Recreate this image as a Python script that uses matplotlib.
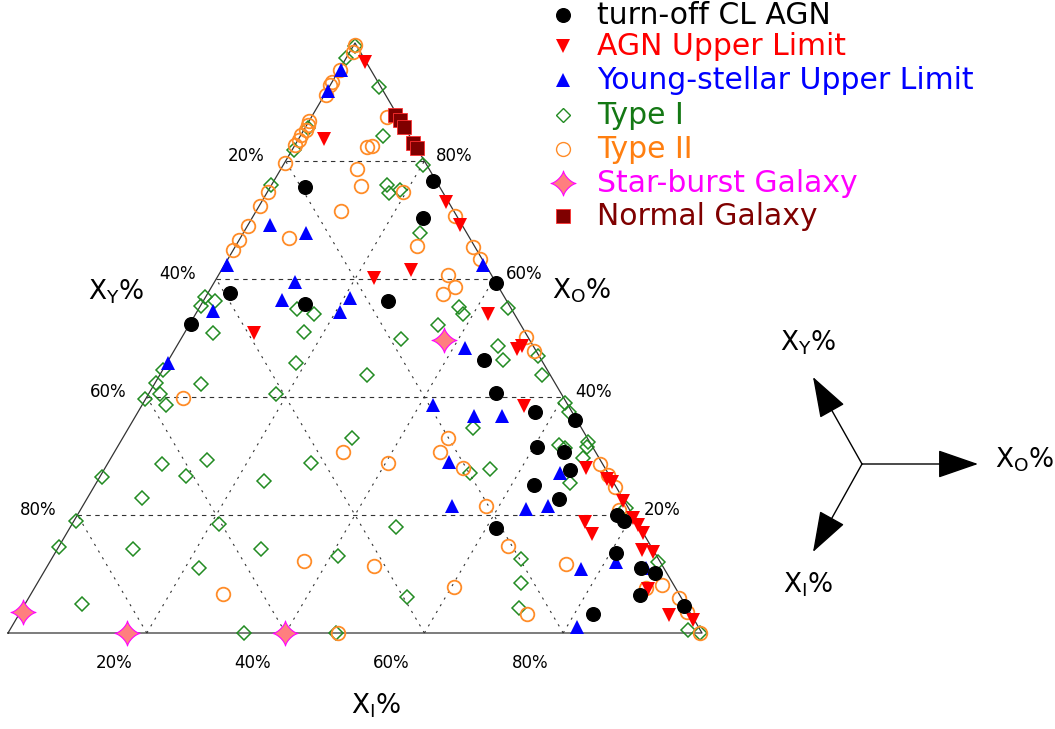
import numpy as np
import matplotlib
matplotlib.use('Agg')
import matplotlib.pyplot as plt
from matplotlib.path import Path

# ternary values in percent: X_O (top), X_I (bottom), X_Y = 100 - X_O - X_I
agn_xo = [75.6, 76.6, 70.3, 57.6, 52.4, 55.7, 56.2, 59.3, 46.3, 40.6, 37.4, 36.1, 31.6,
          30.7, 27.7, 25.1, 22.7, 17.8, 20.0, 19.0, 13.5, 11.0, 10.1, 6.4, 4.5, 3.3]
agn_xi = [5.0, 23.0, 24.6, 3.2, 0.1, 14.9, 26.6, 40.7, 45.4, 50.0, 57.2, 63.7, 60.4,
          64.8, 67.1, 63.3, 68.1, 61.4, 77.7, 79.2, 80.8, 85.7, 88.2, 87.8, 95.1, 82.7]

agnul_xo = [96.8, 83.7, 73.1, 69.2, 60.2, 61.6, 50.8, 54.1, 48.1, 48.6, 38.4, 27.9, 26.1,
            25.6, 22.3, 19.5, 18.3, 16.9, 18.8, 16.8, 14.1, 13.7, 7.4, 3.1, 2.2]
agnul_xi = [3.0, 3.7, 26.6, 30.6, 22.7, 27.2, 10.1, 42.1, 49.3, 49.8, 55.2, 69.4, 73.2,
            74.2, 77.5, 80.3, 81.7, 83.0, 73.8, 75.8, 84.3, 86.1, 88.5, 93.7, 97.6]

young_xo = [95.5, 91.9, 69.2, 67.8, 62.4, 54.5, 45.7, 59.5, 56.4, 56.8, 54.4, 48.3, 38.6,
            36.8, 36.7, 62.4, 28.9, 21.6, 27.2, 21.0, 21.5, 10.8, 12.1, 1.1, 11.0]
young_xi = [0.3, 0.2, 3.1, 9.0, 0.3, 2.3, 0.2, 11.6, 11.3, 20.9, 20.6, 41.7, 41.9,
            48.8, 52.8, 37.3, 49.1, 53.2, 66.0, 64.1, 67.0, 77.2, 81.5, 81.5, 86.5]

type1_xo = [99.5, 97.4, 81.9, 75.9, 85.6, 92.6, 84.2, 79.3, 75.9, 74.5, 75.1, 67.8, 56.9,
            56.3, 55.5, 50.8, 44.6, 42.3, 42.2, 40.5, 39.6, 38.6, 55.0, 54.1, 51.0, 45.7,
            43.8, 49.8, 52.2, 55.3, 54.1, 40.5, 33.0, 34.7, 55.1, 48.7, 46.2, 47.0, 43.8,
            38.9, 37.5, 28.6, 26.6, 29.3, 26.4, 22.9, 19.0, 14.5, 14.2, 18.5, 11.0, 5.0,
            0.0, 28.8, 25.8, 17.9, 14.2, 13.1, 6.1, 0.0, 27.2, 27.8, 31.9, 31.4, 32.4,
            31.6, 29.7, 25.4, 21.2, 12.5, 8.5, 4.3, 12.1, 0.5, 0.0]
type1_xi = [0.2, 0.0, 0.2, 0.0, 0.4, 7.1, 11.9, 20.1, 16.6, 17.6, 18.9, 25.5, 0.0,
            1.7, 0.1, 4.2, 0.1, 0.2, 6.7, 1.7, 0.0, 3.4, 14.2, 17.1, 17.1, 18.6,
            29.8, 31.7, 35.8, 37.4, 38.5, 18.4, 33.0, 49.7, 44.5, 46.2, 48.2, 52.8, 55.0,
            60.8, 62.1, 7.9, 12.3, 14.0, 0.4, 7.9, 0.3, 0.1, 10.9, 21.1, 22.0, 8.1,
            34.0, 29.3, 24.0, 47.0, 29.4, 41.0, 54.5, 47.3, 53.0, 55.6, 63.4, 64.6, 67.4,
            67.6, 68.0, 68.3, 78.4, 67.6, 69.6, 71.5, 87.6, 97.8, 99.7]

type2_xo = [99.6, 98.5, 95.4, 93.4, 92.9, 91.2, 86.8, 86.1, 85.3, 84.4, 83.6, 82.7, 79.6,
            74.8, 72.3, 68.9, 66.9, 87.5, 82.4, 82.6, 78.6, 75.8, 71.5, 74.7, 70.6, 66.6,
            64.9, 39.8, 65.6, 65.5, 60.7, 58.7, 57.4, 33.0, 63.4, 50.2, 47.8, 6.6, 30.6,
            28.8, 30.6, 27.9, 12.2, 11.4, 7.8, 0.0, 21.6, 14.7, 28.6, 26.8, 24.7, 20.8,
            11.7, 7.6, 8.1, 5.9, 3.6, 3.2, 0.0]
type2_xi = [0.2, 0.4, 0.1, 0.0, 0.0, 0.2, 0.0, 0.2, 0.3, 0.0, 0.2, 0.0, 0.1,
            0.1, 0.2, 0.2, 7.1, 10.8, 10.5, 11.2, 11.0, 13.0, 12.2, 19.6, 29.1, 0.0,
            0.0, 5.3, 26.1, 34.3, 33.1, 35.1, 34.0, 46.9, 36.3, 49.5, 51.9, 27.7, 33.0,
            40.3, 47.0, 51.6, 36.5, 47.1, 60.3, 47.6, 58.1, 64.7, 71.0, 73.0, 75.1, 77.7,
            74.5, 88.1, 90.2, 93.7, 96.0, 73.2, 99.7]

sb_xo = [49.7, 3.6, 0.0, 0.0]
sb_xi = [38.0, 0.3, 17.2, 39.9]

norm_xo = [87.8, 86.9, 85.8, 83.0, 82.2]
norm_xi = [11.9, 13.0, 14.1, 16.9, 17.8]

grid_levels = [20, 40, 60, 80]


def tern(xo, xi):
    xo = np.asarray(xo) / 100.
    xi = np.asarray(xi) / 100.
    return xi + xo / 2., xo


def px(x, y):
    # pixel position of the reference picture -> data coords
    return (x - 8) / 694., (633 - y) / 590.


# four point star marker (concave sides)
t = np.linspace(0, 2 * np.pi, 121)
star = np.column_stack([np.sign(np.cos(t)) * np.abs(np.cos(t)) ** 2.8,
                        np.sign(np.sin(t)) * np.abs(np.sin(t)) ** 2.8])
star_marker = Path(star, closed=True)

fig = plt.figure(figsize=(10.55, 7.29), dpi=100)
ax = fig.add_axes([0, 0, 1, 1])
ax.set_xlim(-8 / 694., 1047 / 694.)
ax.set_ylim(-96 / 590., 633 / 590.)
ax.axis('off')

# triangle
ax.plot([0, 1, 0.5, 0], [0, 0, 1, 0], color='#333333', lw=0.9, zorder=1)

# grid
for g in grid_levels:
    c = g / 100.
    ax.plot([c / 2, 1 - c / 2], [c, c], color='#333333', lw=0.8, ls=(0, (4, 4)), zorder=1)
    ax.plot([c, c + (1 - c) / 2], [0, 1 - c], color='#333333', lw=0.8, ls=(0, (2, 5)), zorder=1)
    ax.plot([1 - c, (1 - c) / 2], [0, 1 - c], color='#333333', lw=0.8, ls=(0, (2, 5)), zorder=1)

# tick labels
for g in grid_levels:
    c = g / 100.
    lx, ly = px(8 + 694 * c / 2 - 39, 633 - 590 * c - 5)
    ax.text(lx, ly, f'{100 - g}%', fontsize=12, ha='center', va='center')
    rx, ry = px(8 + 694 * (1 - c / 2) + 30, 633 - 590 * c - 5)
    ax.text(rx, ry, f'{g}%', fontsize=12, ha='center', va='center')
    bx, by = px(8 + 694 * c - 33, 663)
    ax.text(bx, by, f'{g}%', fontsize=12, ha='center', va='center')

ax.text(*px(116, 292), r'X$_{\rm Y}$%', fontsize=19, ha='center', va='center')
ax.text(*px(582, 291), r'X$_{\rm O}$%', fontsize=19, ha='center', va='center')
ax.text(*px(376, 706), r'X$_{\rm I}$%', fontsize=19, ha='center', va='center')

# data
x, y = tern(type1_xo, type1_xi)
ax.plot(x, y, 'D', ms=7, mfc='none', mec='#228B22', mew=1.1, ls='none', zorder=3)
x, y = tern(type2_xo, type2_xi)
ax.plot(x, y, 'o', ms=9.8, mfc='none', mec='#FF8C28', mew=1.3, ls='none', zorder=3)
x, y = tern(sb_xo, sb_xi)
ax.plot(x, y, marker=star_marker, ms=18, mfc='#FF7F7F', mec='#FF00FF', mew=0.8, ls='none', zorder=4)
x, y = tern(norm_xo, norm_xi)
ax.plot(x, y, 's', ms=10.5, mfc='#7F0000', mec='#FF3030', mew=0.6, ls='none', zorder=4)
x, y = tern(young_xo, young_xi)
ax.plot(x, y, '^', ms=9.5, color='#0000FF', mew=0, ls='none', zorder=5)
x, y = tern(agnul_xo, agnul_xi)
ax.plot(x, y, 'v', ms=9.5, color='#FF0000', mew=0, ls='none', zorder=5)
x, y = tern(agn_xo, agn_xi)
ax.plot(x, y, 'o', ms=9.8, color='black', ls='none', zorder=6)

# legend
legend_rows = [
    ('turn-off CL AGN', dict(marker='o', ms=9.8, mfc='black', mec='black'), 'black'),
    ('AGN Upper Limit', dict(marker='v', ms=10, mfc='#FF0000', mec='#FF0000', mew=0), '#FF0000'),
    ('Young-stellar Upper Limit', dict(marker='^', ms=10, mfc='#0000FF', mec='#0000FF', mew=0), '#0000FF'),
    ('Type I', dict(marker='D', ms=7, mfc='none', mec='#228B22', mew=1), '#147814'),
    ('Type II', dict(marker='o', ms=10, mfc='none', mec='#FF8C28', mew=1), '#FF7F10'),
    ('Star-burst Galaxy', dict(marker=star_marker, ms=18, mfc='#FF7F7F', mec='#FF00FF', mew=0.8), '#FF00FF'),
    ('Normal Galaxy', dict(marker='s', ms=10.5, mfc='#7F0000', mec='#FF3030', mew=0.6), '#7F0000'),
]
row_y = [15, 46, 80, 115, 149, 183, 216]
for (label, mk, col), yy in zip(legend_rows, row_y):
    ax.plot(*px(563, yy), ls='none', **mk)
    ax.text(*px(597, yy), label, color=col, fontsize=21.5, ha='left', va='center')

# direction arrows
cx, cy = px(862, 464)
arrow_tips = [(978, 464), (813, 377), (813, 552)]
for tx, ty in arrow_tips:
    ax.annotate('', xy=px(tx, ty), xytext=(cx, cy),
                arrowprops=dict(arrowstyle='-|>,head_length=1.3,head_width=0.45',
                                mutation_scale=20, color='black', lw=1.0,
                                shrinkA=0, shrinkB=0))
ax.text(*px(1025, 460), r'X$_{\rm O}$%', fontsize=19, ha='center', va='center')
ax.text(*px(808, 343), r'X$_{\rm Y}$%', fontsize=19, ha='center', va='center')
ax.text(*px(808, 585), r'X$_{\rm I}$%', fontsize=19, ha='center', va='center')

plt.savefig('out.png', dpi=100)
